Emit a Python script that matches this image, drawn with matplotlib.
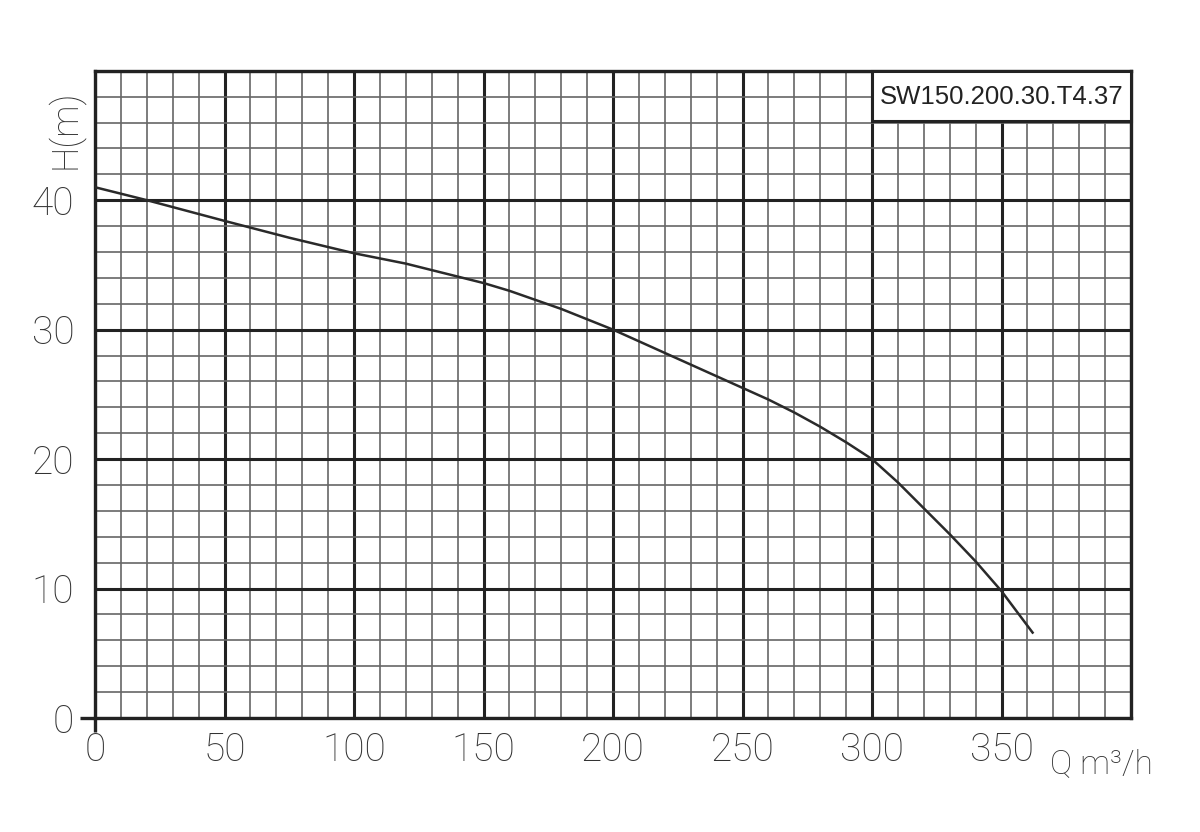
import matplotlib.pyplot as plt
from matplotlib.patches import Rectangle

# pump curve
q = [0, 20, 50, 75, 100, 110, 120, 130, 140, 150, 160, 170, 180, 190, 200,
     210, 220, 230, 240, 250, 260, 270, 280, 290, 300, 310, 320, 330, 340, 350, 362]
h = [41.0, 40.0, 38.4, 37.1, 35.9, 35.5, 35.1, 34.6, 34.1, 33.6, 33.0, 32.3, 31.6, 30.8, 30.0,
     29.1, 28.2, 27.3, 26.4, 25.5, 24.6, 23.6, 22.5, 21.3, 20.0, 18.2, 16.2, 14.2, 12.1, 9.8, 6.6]

x_major = [0, 50, 100, 150, 200, 250, 300, 350, 400]
x_labels = ["0", "50", "100", "150", "200", "250", "300", "350", ""]
y_major = [0, 10, 20, 30, 40, 50]
y_labels = ["0", "10", "20", "30", "40", ""]
model = "SW150.200.30.T4.37"

label_font = dict(family="Roboto", weight="light", color="#333333")

fig = plt.figure(figsize=(12, 8.32), dpi=100)
ax = fig.add_axes([0.0792, 0.137, 0.8633, 0.778])
ax.set_xlim(0, 400)
ax.set_ylim(0, 50)

ax.set_xticks(x_major)
ax.set_xticks(range(0, 401, 10), minor=True)
ax.set_yticks(y_major)
ax.set_yticks(range(0, 51, 2), minor=True)
ax.set_xticklabels(x_labels, fontsize=28, **label_font)
ax.set_yticklabels(y_labels, fontsize=28, **label_font)
ax.tick_params(axis="both", which="both", length=0)
ax.tick_params(axis="x", pad=10)
ax.tick_params(axis="y", pad=15)

ax.grid(which="minor", color="#666666", lw=1.2, zorder=0)
ax.grid(which="major", color="#222222", lw=2.2, zorder=0)
ax.set_axisbelow(True)
for s in ax.spines.values():
    s.set_linewidth(2.4)
    s.set_color("#222222")

# small extensions of the axes at the origin
ax.plot([-6, 0], [0, 0], color="#222222", lw=2.4, clip_on=False, solid_capstyle="butt")
ax.plot([0, 0], [-1.1, 0], color="#222222", lw=2.4, clip_on=False, solid_capstyle="butt")

ax.plot(q, h, color="#2a2a2a", lw=1.8, zorder=3)

# model box in the top right corner
ax.add_patch(Rectangle((300, 46.1), 100, 3.9, facecolor="white", edgecolor="#222222",
                       lw=2.2, zorder=4, clip_on=False))
ax.text(350, 48.0, model, ha="center", va="center", fontsize=18.5,
        family="Liberation Sans", color="#222222", zorder=5)

fig.text(0.054, 0.845, "H(m)", rotation=90, ha="center", va="center",
         fontsize=26, **label_font)
fig.text(0.918, 0.082, "Q m³/h", ha="center", va="center",
         fontsize=24, **label_font)

fig.savefig("out.png", dpi=100, facecolor="white")
